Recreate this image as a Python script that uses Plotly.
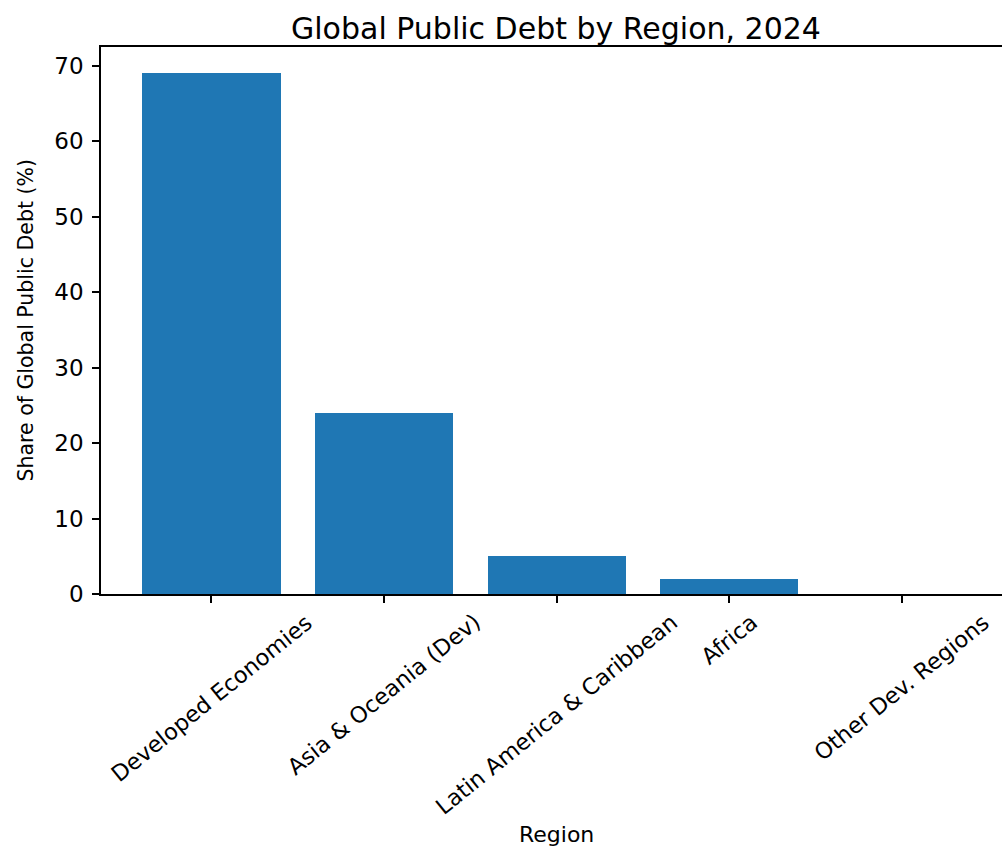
import plotly.graph_objects as go

regions = ["Developed Economies", "Asia & Oceania (Dev)", "Latin America & Caribbean",
           "Africa", "Other Dev. Regions"]
shares = [69, 24, 5, 2, 0]
y_ticks = [0, 10, 20, 30, 40, 50, 60, 70]

title_text = "Global Public Debt by Region, 2024"
x_title = "Region"
y_title = "Share of Global Public Debt (%)"

FONT = "DejaVu Sans"
idx = list(range(len(regions)))

W, H = 1002, 849

fig = go.Figure()
fig.add_trace(go.Bar(x=idx, y=shares, width=0.8, marker=dict(color="#1f77b4", line=dict(width=0)),
                     hoverinfo="skip"))

ann = []
for i, r in zip(idx, regions):
    ann.append(dict(x=i, y=0, xref="x", yref="paper", text=r, showarrow=False,
                    textangle=-39, xanchor="center", yanchor="top", yshift=-12,
                    font=dict(family=FONT, size=22.5, color="black")))
ann.append(dict(x=2, y=0, xref="x", yref="paper", text=x_title, showarrow=False,
                xanchor="center", yanchor="bottom", yshift=-254, borderpad=0,
                font=dict(family=FONT, size=22, color="black")))
ann.append(dict(x=0, y=0.5, xref="paper", yref="paper", text=y_title, showarrow=False,
                textangle=-90, xanchor="center", yanchor="middle", xshift=-76,
                font=dict(family=FONT, size=20.5, color="black")))

fig.update_layout(
    width=W, height=H,
    margin=dict(l=101, r=0, t=47, b=255),
    paper_bgcolor="white", plot_bgcolor="white",
    showlegend=False,
    title=dict(text=title_text, x=0.505, xref="paper", xanchor="center",
               y=1 - 28 / H, yref="container", yanchor="middle",
               font=dict(family=FONT, size=30, color="black")),
    annotations=ann,
    bargap=0,
)
fig.update_xaxes(range=[-0.64, 4.58], tickvals=idx, showticklabels=False,
                 ticks="outside", ticklen=7, tickwidth=1.5, tickcolor="black",
                 showline=True, linecolor="black", linewidth=1.5, mirror=True,
                 showgrid=False, zeroline=False)
fig.update_yaxes(range=[0, 72.45], tickvals=y_ticks, ticktext=[str(v) for v in y_ticks],
                 ticks="outside", ticklen=7, tickwidth=1.5, tickcolor="black",
                 ticklabelstandoff=4,
                 tickfont=dict(family=FONT, size=23, color="black"),
                 showline=True, linecolor="black", linewidth=1.5,
                 showgrid=False, zeroline=False)

fig.write_html("out.html", config={"displayModeBar": False},
               post_script="document.body.style.margin='0';document.body.style.overflow='hidden';")
